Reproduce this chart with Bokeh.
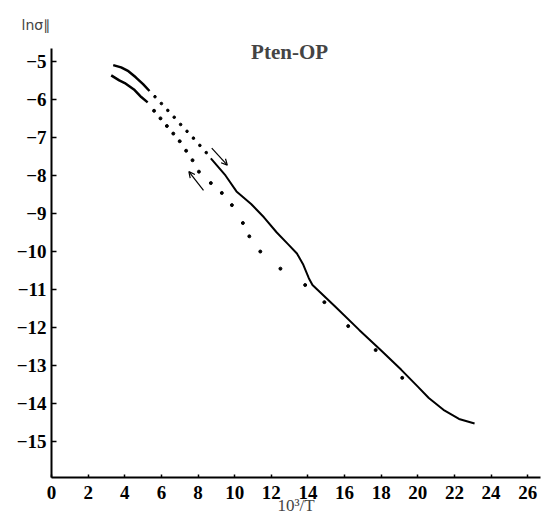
from bokeh.plotting import figure
from bokeh.models import Range1d, Label, Arrow, OpenHead, FixedTicker, Title
from bokeh.embed import file_html
from bokeh.resources import INLINE

# ---- data ----
x_ticks = list(range(0, 27, 2))
y_ticks = list(range(-15, -4))

heat_solid_a_x = [3.37, 3.8, 4.2, 4.6, 5.0, 5.35]
heat_solid_a_y = [-5.10, -5.16, -5.26, -5.42, -5.60, -5.78]
heat_dots_x = [5.65, 6.0, 6.35, 6.7, 7.05, 7.4, 7.75, 8.1, 8.45]
heat_dots_y = [-5.93, -6.11, -6.29, -6.47, -6.66, -6.84, -7.02, -7.21, -7.40]
heat_solid_b_x = [8.7, 9.5, 10.1, 10.9, 11.6, 12.3, 12.9, 13.4, 13.75, 14.05,
                  14.25, 15.5, 16.8, 18.0, 19.1, 20.0, 20.6, 21.4, 22.25, 23.1]
heat_solid_b_y = [-7.55, -8.00, -8.42, -8.75, -9.10, -9.50, -9.80, -10.05, -10.35, -10.70,
                  -10.88, -11.45, -12.06, -12.60, -13.11, -13.55, -13.85, -14.16, -14.40, -14.52]

cool_solid_x = [3.26, 3.7, 4.0, 4.5, 4.9, 5.25]
cool_solid_y = [-5.37, -5.50, -5.57, -5.74, -5.94, -6.08]
cool_dots_x = [5.6, 5.95, 6.3, 6.65, 7.0, 7.35, 7.7, 8.05, 8.7, 9.3, 9.85, 10.45,
               10.8, 11.4, 12.5, 13.85, 14.9, 16.2, 17.7, 19.15]
cool_dots_y = [-6.30, -6.50, -6.70, -6.90, -7.10, -7.35, -7.60, -7.90, -8.20, -8.46, -8.78, -9.25,
               -9.60, -10.00, -10.45, -10.88, -11.33, -11.96, -12.59, -13.32]

arrow_heat = (8.75, -7.28, 9.6, -7.73)
arrow_cool = (8.3, -8.39, 7.5, -7.90)

title_text = "Pten-OP"
ylabel_text = "lnσ\u2225"
xlabel_text = "10³/T"

x_lo, x_hi = 0, 26.7
y_lo, y_hi = -15.94, -4.40
y_axis_top = -4.66

SERIF = "Liberation Serif"

p = figure(width=547, height=517, output_backend="svg", toolbar_location=None,
           x_range=Range1d(x_lo, x_hi), y_range=Range1d(y_lo, y_hi),
           min_border_left=51, min_border_right=7, min_border_top=38, min_border_bottom=39)
p.outline_line_color = None
p.grid.grid_line_color = None
p.background_fill_color = "white"
p.border_fill_color = "white"

for ax in (p.xaxis[0], p.yaxis[0]):
    ax.axis_line_width = 2
    ax.axis_line_color = "black"
    ax.major_tick_line_color = "black"
    ax.major_tick_line_width = 1.5
    ax.minor_tick_line_color = None
    ax.major_label_text_font = SERIF
    ax.major_label_text_font_style = "bold"
    ax.major_label_text_font_size = "19px"
    ax.major_label_text_color = "black"

p.xaxis.ticker = FixedTicker(ticks=x_ticks)
p.yaxis.ticker = FixedTicker(ticks=y_ticks)
p.yaxis.bounds = (y_lo, y_axis_top)
p.yaxis.major_label_overrides = {t: "\u2212" + str(abs(t)) for t in y_ticks}
p.xaxis.major_tick_in = 3
p.xaxis.major_tick_out = 0
p.yaxis.major_tick_in = 5
p.yaxis.major_tick_out = 0
p.xaxis.major_label_standoff = 8
p.yaxis.major_label_standoff = 5

p.xaxis.axis_label = xlabel_text
p.xaxis.axis_label_text_font = SERIF
p.xaxis.axis_label_text_font_style = "normal"
p.xaxis.axis_label_text_font_size = "17px"
p.xaxis.axis_label_standoff = -6

# curves
p.line(heat_solid_a_x, heat_solid_a_y, line_color="black", line_width=2.5)
p.scatter(heat_dots_x, heat_dots_y, size=2.6, color="black")
p.line(heat_solid_b_x, heat_solid_b_y, line_color="black", line_width=2)
p.line(cool_solid_x, cool_solid_y, line_color="black", line_width=2.5)
p.scatter(cool_dots_x, cool_dots_y, size=3, color="black")

for (x0, y0, x1, y1) in (arrow_heat, arrow_cool):
    p.add_layout(Arrow(x_start=x0, y_start=y0, x_end=x1, y_end=y1,
                       line_width=1.2, line_color="black",
                       end=OpenHead(size=6, line_width=1.2, line_color="black")))

p.add_layout(Label(x=13.0, y=-4.76, text=title_text, text_font=SERIF, text_font_style="bold",
                   text_font_size="21px", text_align="center", text_baseline="middle"))
p.add_layout(Title(text=ylabel_text, align="left", offset=-30, vertical_align="middle",
                   text_font="DejaVu Sans", text_font_size="14px", text_font_style="normal"),
             "above")

open("out.html", "w").write(file_html(p, INLINE))
